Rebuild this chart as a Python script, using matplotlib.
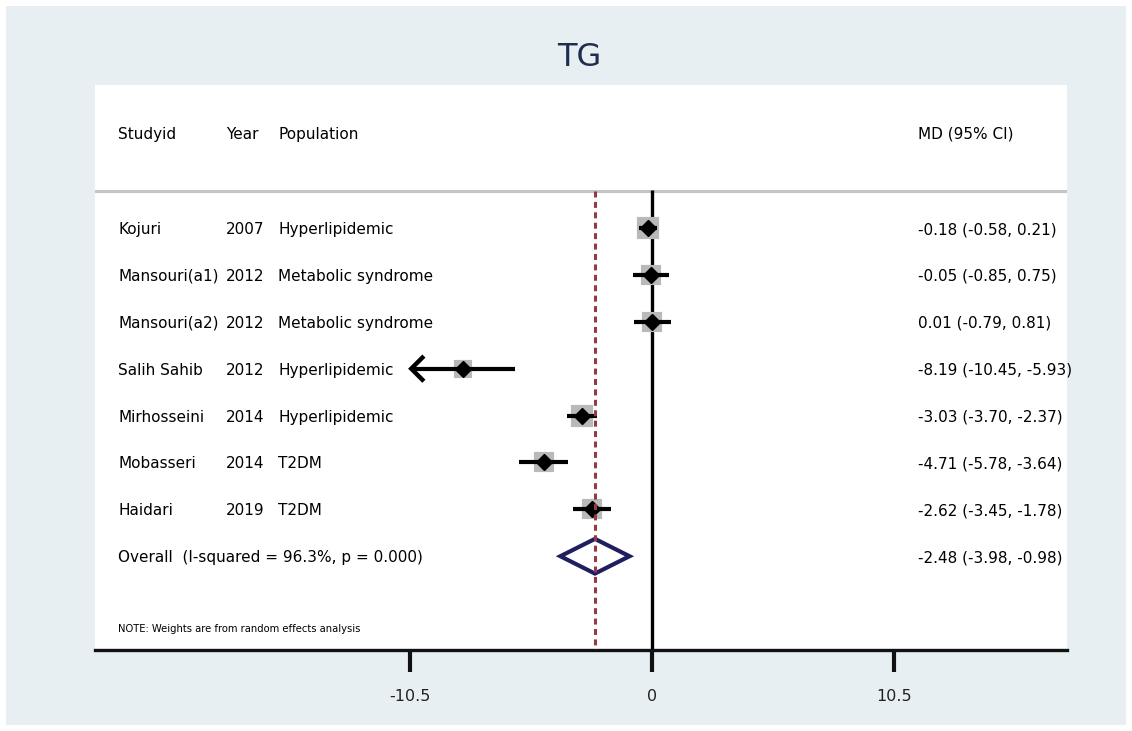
import numpy as np
import matplotlib.pyplot as plt
from matplotlib.patches import Rectangle, Polygon

plt.rcParams['font.family'] = ['DejaVu Sans']
plt.rcParams['lines.scale_dashes'] = False

# study table
studies = ['Kojuri', 'Mansouri(a1)', 'Mansouri(a2)', 'Salih Sahib',
           'Mirhosseini', 'Mobasseri', 'Haidari']
years = ['2007', '2012', '2012', '2012', '2014', '2014', '2019']
populations = ['Hyperlipidemic', 'Metabolic syndrome', 'Metabolic syndrome',
               'Hyperlipidemic', 'Hyperlipidemic', 'T2DM', 'T2DM']
md = [-0.18, -0.05, 0.01, -8.19, -3.03, -4.71, -2.62]
ci_lo = [-0.58, -0.85, -0.79, -10.45, -3.70, -5.78, -3.45]
ci_hi = [0.21, 0.75, 0.81, -5.93, -2.37, -3.64, -1.78]
weights = [15.6, 14.6, 14.6, 12.0, 15.0, 13.9, 14.3]

overall_md = -2.48
overall_lo = -3.98
overall_hi = -0.98
i_squared = 96.3
p_het = 0.000

xticks = [-10.5, 0, 10.5]
xticklabels = ['-10.5', '0', '10.5']


def main():
    W, H = 1132, 731
    fig = plt.figure(figsize=(W / 100, H / 100), dpi=100, facecolor='white')
    fig.patches.append(Rectangle((6 / W, 6 / H), 1120 / W, 719 / H,
                                 transform=fig.transFigure, facecolor='#e8eff2',
                                 edgecolor='none', zorder=-5))

    ax = fig.add_axes([95 / W, 81 / H, 972 / W, 565 / H])
    ax.set_facecolor('white')
    ax.set_xlim(-24.17, 18.0)
    ax.set_ylim(10.0, -2.05)

    for s in ['left', 'top', 'right']:
        ax.spines[s].set_visible(False)
    ax.spines['bottom'].set_linewidth(2.4)
    ax.spines['bottom'].set_color('#111111')
    ax.set_yticks([])
    ax.set_xticks(xticks, labels=xticklabels)
    ax.tick_params(axis='x', length=16, width=3, pad=12, labelsize=11.5,
                   color='#111111', labelcolor='#222222')

    rows = np.arange(1, len(studies) + 1)
    y_overall = len(studies) + 1

    # header and separator
    tr = ax.get_yaxis_transform()
    fs = 11
    ax.text(0.0237, -1.03, 'Studyid', transform=tr, fontsize=fs, va='center_baseline')
    ax.text(0.1348, -1.03, 'Year', transform=tr, fontsize=fs, va='center_baseline')
    ax.text(0.1883, -1.03, 'Population', transform=tr, fontsize=fs, va='center_baseline')
    ax.text(0.8467, -1.03, 'MD (95% CI)', transform=tr, fontsize=fs, va='center_baseline')
    ax.axhline(0.21, color='#c4c4c4', lw=2.2, zorder=1)

    # reference lines
    ax.plot([0, 0], [0.19, 10.0], color='black', lw=2.4, zorder=2, solid_capstyle='butt')
    ax.plot([overall_md, overall_md], [0.21, 10.0], color='#933a46', lw=2.2,
            dashes=(4.3, 3.2), zorder=6)

    # study estimates
    for i, y in enumerate(rows):
        lo = ci_lo[i]
        ax.plot([lo, ci_hi[i]], [y, y], color='black', lw=3.0, zorder=4,
                solid_capstyle='butt')
        if lo < -10:
            ax.plot([lo + 0.48, lo, lo + 0.48], [y - 0.235, y, y + 0.235],
                    color='black', lw=3.2, zorder=4, solid_joinstyle='miter')
        side = 5.5 * np.sqrt(weights[i]) * 0.72
        ax.plot(md[i], y, marker='s', ms=side - 3.0, mfc='#b9b9b9', mec='#b9b9b9',
                mew=3.0, zorder=3, linestyle='none')
        ax.plot(md[i], y, marker='D', ms=8.0, color='black', zorder=5, linestyle='none')

        ax.text(0.0237, y, studies[i], transform=tr, fontsize=fs, va='center_baseline')
        ax.text(0.1348, y, years[i], transform=tr, fontsize=fs, va='center_baseline')
        ax.text(0.1883, y, populations[i], transform=tr, fontsize=fs, va='center_baseline')
        ax.text(0.8467, y, f'{md[i]:.2f} ({ci_lo[i]:.2f}, {ci_hi[i]:.2f})',
                transform=tr, fontsize=fs, va='center_baseline')

    # pooled estimate
    h = 0.37
    diamond = Polygon([[overall_lo, y_overall], [overall_md, y_overall - h],
                       [overall_hi, y_overall], [overall_md, y_overall + h]],
                      closed=True, facecolor='none', edgecolor='#1f1f60', lw=3.0,
                      joinstyle='miter', zorder=4)
    ax.add_patch(diamond)
    ax.text(0.0237, y_overall,
            f'Overall  (I-squared = {i_squared:.1f}%, p = {p_het:.3f})',
            transform=tr, fontsize=fs, va='center_baseline')
    ax.text(0.8467, y_overall,
            f'{overall_md:.2f} ({overall_lo:.2f}, {overall_hi:.2f})',
            transform=tr, fontsize=fs, va='center_baseline')

    ax.text(0.0237, 9.53, 'NOTE: Weights are from random effects analysis',
            transform=tr, fontsize=7.2, va='center_baseline')

    fig.text(579 / W, 1 - 57 / H, 'TG', ha='center', va='center',
             fontsize=23, color='#1f2d50')

    fig.savefig('out.png', dpi=100, facecolor=fig.get_facecolor())


if __name__ == '__main__':
    main()
